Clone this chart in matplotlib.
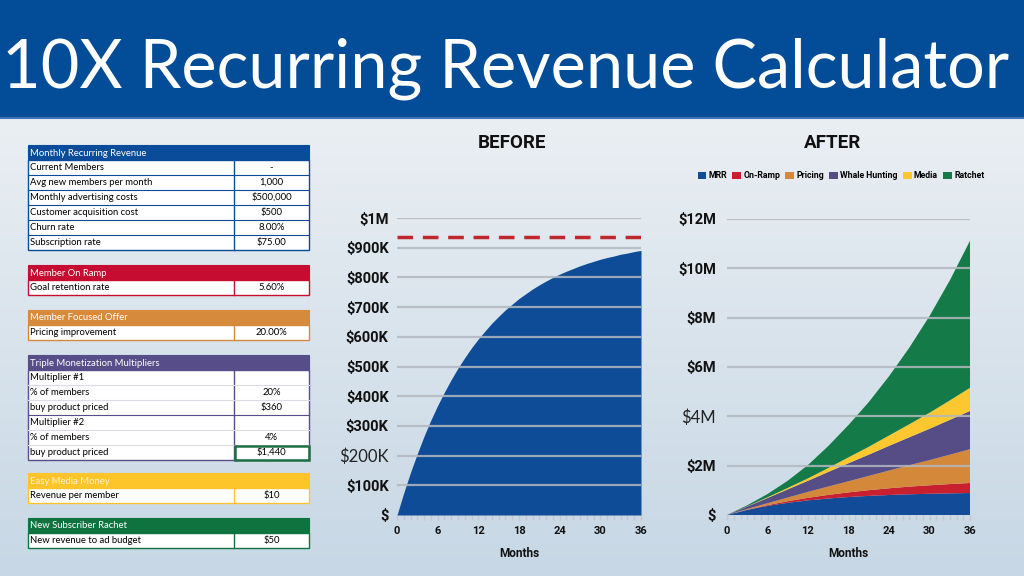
import numpy as np
import matplotlib.pyplot as plt
from matplotlib.patches import Rectangle

# values
months = list(range(37))
mrr_before = [0, 75000, 144000, 207000, 266000, 320000, 369000, 414000, 456000, 495000,
              530000, 563000, 593000, 620000, 646000, 669000, 691000, 710000, 729000, 745000,
              761000, 775000, 788000, 800000, 811000, 821000, 830000, 839000, 847000, 854000,
              861000, 867000, 872000, 878000, 882000, 887000, 891000]
steady_state_mrr = 937500

after_months = [0, 3, 6, 9, 12, 15, 18, 21, 24, 27, 30, 33, 36]
mrr_after = [0, 0.207, 0.369, 0.494, 0.593, 0.669, 0.729, 0.775, 0.811, 0.839, 0.861, 0.878, 0.891]
onramp = [0, 0.007, 0.030, 0.065, 0.104, 0.146, 0.189, 0.231, 0.272, 0.310, 0.344, 0.376, 0.406]
pricing = [0, 0.03, 0.08, 0.15, 0.24, 0.34, 0.45, 0.58, 0.72, 0.87, 1.02, 1.19, 1.37]
whale = [0, 0.10, 0.21, 0.33, 0.45, 0.59, 0.73, 0.86, 1.00, 1.13, 1.27, 1.41, 1.55]
media = [0, 0.01, 0.03, 0.06, 0.10, 0.16, 0.24, 0.32, 0.42, 0.53, 0.65, 0.79, 0.94]
ratchet = [0, 0.04, 0.13, 0.29, 0.54, 0.89, 1.31, 1.81, 2.40, 3.10, 3.92, 4.86, 5.96]
layer_names = ['MRR', 'On-Ramp', 'Pricing', 'Whale Hunting', 'Media', 'Ratchet']
layer_colors = ['#124c98', '#c8202f', '#d4883a', '#564c86', '#fdc82f', '#137a48']

before_ticks = [0, 100000, 200000, 300000, 400000, 500000, 600000, 700000, 800000, 900000, 1000000]
before_labels = ['$', '$100K', '$200K', '$300K', '$400K', '$500K', '$600K', '$700K', '$800K', '$900K', '$1M']
after_ticks = [0, 2, 4, 6, 8, 10, 12]
after_labels = ['$', '$2M', '$4M', '$6M', '$8M', '$10M', '$12M']
month_ticks = [0, 6, 12, 18, 24, 30, 36]

mrr_rows = [('Current Members', '-'), ('Avg new members per month', '1,000'),
            ('Monthly advertising costs', '$500,000'), ('Customer acquisition cost', '$500'),
            ('Churn rate', '8.00%'), ('Subscription rate', '$75.00')]
onramp_rows = [('Goal retention rate', '5.60%')]
offer_rows = [('Pricing improvement', '20.00%')]
multiplier_rows = [('Multiplier #1', ''), ('% of members', '20%'), ('buy product priced', '$360'),
                   ('Multiplier #2', ''), ('% of members', '4%'), ('buy product priced', '$1,440')]
media_rows = [('Revenue per member', '$10')]
rachet_rows = [('New revenue to ad budget', '$50')]

BODY = ['Lato', 'DejaVu Sans']
TICK = ['Roboto', 'DejaVu Sans']
COND = ['Roboto', 'DejaVu Sans']

W, H = 1024, 576
fig = plt.figure(figsize=(10.24, 5.76), dpi=100)

# background in pixel coords
bg = fig.add_axes([0, 0, 1, 1])
bg.set_xlim(0, W)
bg.set_ylim(H, 0)
bg.axis('off')
top_c = np.array([234, 239, 243]) / 255
bot_c = np.array([199, 215, 229]) / 255
grad = np.linspace(0, 1, 200)[:, None, None]
img = top_c * (1 - grad) + bot_c * grad
bg.imshow(np.repeat(img, 2, axis=1), extent=[0, W, H, 117], aspect='auto', zorder=0)
bg.add_patch(Rectangle((0, 0), W, 117, facecolor='#034c97', edgecolor='none', zorder=1))
bg.plot([0, W], [117.5, 117.5], color='#3d74b5', lw=1.5, zorder=2)
bg.text(2, 87, '10X Recurring Revenue Calculator', color='white', fontsize=48,
        family=BODY, ha='left', va='baseline', zorder=3)


def draw_block(top, title, color, rows, title_color='white', inner='same', strong=()):
    x0, x1, xv = 28, 309, 234
    bg.add_patch(Rectangle((x0, top), x1 - x0, 15, facecolor=color, edgecolor=color, lw=0.8, zorder=2))
    bg.text(x0 + 2, top + 8, title, color=title_color, fontsize=6.8, family=BODY,
            va='center', zorder=3)
    n = len(rows)
    bg.add_patch(Rectangle((x0, top + 15), x1 - x0, 15 * n, facecolor='white',
                           edgecolor=color, lw=1.0, zorder=2))
    bg.plot([xv, xv], [top + 15, top + 15 * (n + 1)], color=color, lw=1.0, zorder=3)
    for i, (label, val) in enumerate(rows):
        y = top + 15 * (i + 1)
        if i > 0:
            lc = color if (inner == 'same' or (i - 1) in strong) else '#dcdce4'
            bg.plot([x0, x1], [y, y], color=lc, lw=0.8, zorder=3)
        bg.text(x0 + 2, y + 7.5, label, color='black', fontsize=6.8, family=BODY,
                va='center', zorder=4)
        bg.text((xv + x1) / 2, y + 7.5, val, color='black', fontsize=6.8, family=BODY,
                va='center', ha='center', zorder=4)


draw_block(145, 'Monthly Recurring Revenue', '#0b4c9a', mrr_rows)
draw_block(265, 'Member On Ramp', '#c60c30', onramp_rows)
draw_block(310, 'Member Focused Offer', '#d68b3c', offer_rows)
draw_block(355, 'Triple Monetization Multipliers', '#574d88', multiplier_rows,
           inner='faint', strong=(2,))
draw_block(473, 'Easy Media Money', '#fdc52a', media_rows, title_color='#fff4cc')
draw_block(518, 'New Subscriber Rachet', '#0f7340', rachet_rows)
bg.add_patch(Rectangle((234.5, 445.5), 74, 14, facecolor='none', edgecolor='#1e7145',
                       lw=1.8, zorder=5))


def px_axes(left, top, right, bottom):
    return fig.add_axes([left / W, 1 - bottom / H, (right - left) / W, (bottom - top) / H])


def style_axes(ax, ticks, labels, plain, label_pad):
    ax.set_facecolor('none')
    for s in ax.spines.values():
        s.set_visible(False)
    ax.set_xlim(0, 36)
    ax.set_xticks(month_ticks)
    ax.set_xticks(months, minor=True)
    ax.set_xticklabels([str(m) for m in month_ticks], fontsize=8, fontweight='bold',
                       family=TICK, color='#111111')
    ax.tick_params(axis='x', which='both', length=3.5, width=1, color='#c3c8cf', pad=4.5)
    ax.set_yticks(ticks)
    ax.set_yticklabels(labels)
    ax.tick_params(axis='y', length=0, pad=label_pad)
    for t in ax.get_yticklabels():
        if t.get_text() in plain:
            t.set_fontfamily(BODY)
            t.set_fontsize(12)
            t.set_fontweight('normal')
            t.set_color('#222222')
        else:
            t.set_fontfamily(TICK)
            t.set_fontsize(10.5)
            t.set_fontweight('bold')
            t.set_color('#111111')
    for v in ticks[1:]:
        ax.axhline(v, color='#b3b8bf', lw=1.6, alpha=0.85, zorder=3)
    ax.set_xlabel('Months', fontsize=8.5, fontweight='bold', family=TICK,
                  color='#111111', labelpad=8)


# BEFORE chart
ax1 = px_axes(397, 218, 641, 515)
ax1.set_ylim(0, 1000000)
ax1.fill_between(months, 0, mrr_before, color='#0f4c97', lw=0, zorder=2)
ax1.axhline(steady_state_mrr, color='#c0282d', lw=2.5, dashes=(4.5, 2.8), zorder=4)
style_axes(ax1, before_ticks, before_labels, ('$200K',), 6)
bg.text(512, 143, 'BEFORE', fontsize=13.5, fontweight='bold', family=COND,
        ha='center', va='center', color='#111111', zorder=3)

# AFTER chart
ax2 = px_axes(727, 219, 970, 515)
ax2.set_ylim(0, 12)
ax2.stackplot(after_months, mrr_after, onramp, pricing, whale, media, ratchet,
              colors=layer_colors, lw=0, zorder=2)
style_axes(ax2, after_ticks, after_labels, ('$4M',), 8)
bg.text(833, 143, 'AFTER', fontsize=13.5, fontweight='bold', family=COND,
        ha='center', va='center', color='#111111', zorder=3)

handles = [Rectangle((0, 0), 1, 1, facecolor=c, edgecolor='none') for c in layer_colors]
fig.legend(handles, layer_names, loc='center', bbox_to_anchor=(841 / W, 1 - 176 / H),
           ncol=6, frameon=False, handlelength=1.0, handleheight=1.0, handletextpad=0.25,
           columnspacing=0.6, prop={'family': COND, 'weight': 'bold', 'size': 6.3})

fig.savefig('out.png', dpi=100)
